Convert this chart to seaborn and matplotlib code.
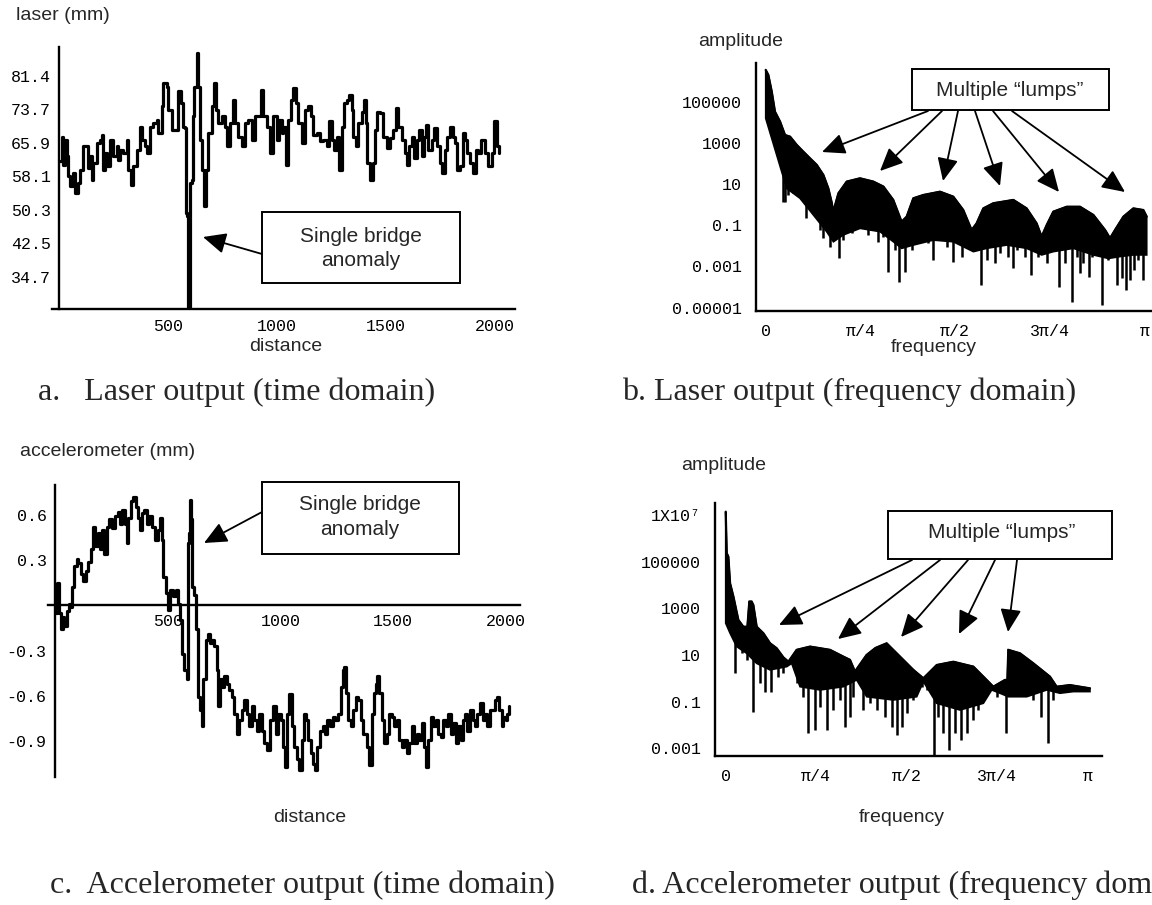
import numpy as np
import matplotlib
matplotlib.use('Agg')
import matplotlib.pyplot as plt
import seaborn as sns
from matplotlib.ticker import FixedLocator, MultipleLocator, NullFormatter
from matplotlib.patches import Rectangle

# ---------------- data ----------------
# (a) laser output, time domain
laser_d = [0, 11, 18, 26, 34, 41, 49, 64, 72, 87,
           95, 110, 125, 133, 141, 148, 156, 171, 187, 194,
           202, 209, 217, 232, 248, 263, 271, 278, 294, 309,
           317, 327, 339, 355, 370, 378, 393, 401, 416, 431,
           446, 454, 469, 477, 492, 500, 515, 531, 546, 557,
           566, 576, 581, 587, 592, 599, 607, 615, 619, 630,
           638, 645, 653, 664, 673, 683, 699, 709, 719, 729,
           745, 760, 771, 783, 795, 806, 821, 836, 852, 867,
           882, 898, 913, 924, 936, 951, 966, 982, 997, 1009,
           1020, 1028, 1040, 1051, 1061, 1074, 1086, 1096, 1112, 1127,
           1142, 1153, 1165, 1181, 1196, 1211, 1226, 1239, 1249, 1260,
           1272, 1285, 1295, 1306, 1321, 1330, 1341, 1349, 1361, 1372,
           1387, 1398, 1407, 1413, 1425, 1437, 1448, 1459, 1471, 1486,
           1502, 1517, 1529, 1543, 1555, 1570, 1586, 1593, 1606, 1616,
           1627, 1639, 1651, 1662, 1673, 1682, 1693, 1708, 1719, 1731,
           1746, 1757, 1769, 1780, 1792, 1804, 1815, 1826, 1838, 1850,
           1861, 1872, 1884, 1899, 1911, 1922, 1934, 1953, 1968, 1983,
           1994, 2006, 2018]
laser_v = [61.5, 67.3, 60.7, 66.6, 62.7, 58.0, 55.7, 58.8, 54.2, 56.5,
           59.6, 65.0, 65.0, 60.0, 62.7, 57.3, 61.1, 65.8, 66.6, 67.7,
           59.6, 63.5, 60.4, 66.6, 62.7, 65.0, 61.9, 64.2, 63.5, 66.6,
           59.6, 56.1, 60.4, 64.2, 69.6, 66.6, 65.0, 63.5, 69.6, 70.4,
           71.2, 68.1, 74.3, 79.7, 78.9, 73.5, 68.9, 68.9, 77.8, 75.1,
           69.6, 69.2, 49.5, 48.8, 27.5, 56.5, 57.3, 72.0, 78.9, 86.7,
           78.9, 66.6, 59.6, 51.1, 59.6, 68.1, 74.3, 79.7, 73.5, 70.4,
           72.0, 69.6, 65.0, 70.4, 75.8, 70.4, 67.3, 65.0, 70.4, 71.2,
           66.6, 72.0, 72.0, 78.2, 72.0, 69.6, 63.5, 72.0, 66.6, 71.2,
           68.1, 69.6, 60.7, 71.2, 75.8, 78.5, 75.1, 70.4, 65.8, 73.5,
           74.3, 72.0, 67.7, 68.1, 66.2, 66.6, 65.0, 70.8, 66.6, 64.2,
           67.3, 59.6, 69.6, 75.1, 75.8, 77.0, 73.5, 67.3, 65.0, 70.4,
           73.1, 75.8, 70.4, 61.1, 57.3, 61.1, 68.9, 73.1, 72.7, 67.3,
           64.6, 66.9, 68.9, 73.9, 69.6, 66.6, 63.5, 60.7, 65.0, 67.3,
           62.3, 66.6, 68.9, 62.7, 67.3, 70.0, 64.2, 66.6, 69.2, 65.0,
           61.1, 58.8, 64.2, 67.3, 69.6, 67.3, 65.8, 59.6, 60.4, 68.1,
           66.6, 63.5, 61.1, 58.8, 64.2, 63.5, 66.6, 63.5, 60.4, 63.5,
           70.8, 65.0, 63.5]
laser_ticks = [34.7, 42.5, 50.3, 58.1, 65.9, 73.7, 81.4]

# (c) accelerometer output, time domain
acc_d = [3, 8, 18, 27, 33, 41, 52, 62, 71, 77,
         86, 96, 103, 115, 126, 136, 148, 160, 170, 177,
         189, 200, 210, 219, 229, 239, 251, 266, 278, 288,
         299, 310, 318, 325, 337, 347, 358, 367, 377, 384,
         396, 406, 417, 429, 443, 455, 466, 473, 480, 491,
         500, 510, 525, 535, 544, 554, 562, 574, 584, 588,
         594, 599, 603, 609, 618, 624, 633, 643, 650, 658,
         668, 677, 687, 698, 707, 717, 724, 732, 742, 751,
         761, 772, 783, 795, 806, 816, 828, 840, 850, 860,
         872, 884, 894, 905, 916, 928, 939, 953, 968, 980,
         990, 1001, 1010, 1020, 1030, 1039, 1049, 1060, 1072, 1083,
         1094, 1104, 1113, 1123, 1134, 1146, 1153, 1163, 1175, 1187,
         1197, 1208, 1219, 1231, 1242, 1256, 1267, 1276, 1282, 1290,
         1301, 1311, 1323, 1335, 1345, 1355, 1367, 1382, 1394, 1404,
         1415, 1423, 1429, 1438, 1449, 1459, 1471, 1483, 1493, 1503,
         1515, 1527, 1537, 1548, 1559, 1571, 1582, 1592, 1604, 1616,
         1626, 1636, 1645, 1656, 1666, 1678, 1690, 1700, 1710, 1722,
         1734, 1744, 1755, 1766, 1778, 1789, 1799, 1808, 1818, 1829,
         1840, 1852, 1862, 1873, 1885, 1896, 1907, 1917, 1929, 1941,
         1951, 1961, 1970, 1981, 1988, 2000, 2006, 2015]
acc_v = [-0.05, 0.15, -0.05, -0.16, -0.08, -0.14, -0.04, 0.01, -0.01, 0.12,
         0.26, 0.31, 0.28, 0.21, 0.16, 0.23, 0.29, 0.37, 0.52, 0.39,
         0.48, 0.37, 0.50, 0.34, 0.52, 0.57, 0.51, 0.59, 0.62, 0.54,
         0.63, 0.54, 0.41, 0.58, 0.69, 0.72, 0.65, 0.58, 0.50, 0.61,
         0.63, 0.54, 0.59, 0.52, 0.43, 0.50, 0.58, 0.43, 0.19, 0.08,
         -0.03, 0.10, 0.06, 0.10, 0.01, -0.10, -0.32, -0.43, -0.49, 0.41,
         0.48, 0.70, 0.57, 0.12, 0.07, -0.16, -0.61, -0.69, -0.80, -0.49,
         -0.23, -0.19, -0.25, -0.23, -0.27, -0.43, -0.67, -0.49, -0.54, -0.47,
         -0.52, -0.56, -0.61, -0.72, -0.85, -0.76, -0.69, -0.63, -0.72, -0.80,
         -0.67, -0.76, -0.83, -0.72, -0.83, -0.91, -0.96, -0.76, -0.67, -0.85,
         -0.72, -0.76, -0.94, -1.07, -0.72, -0.59, -0.80, -0.94, -1.02, -1.09,
         -0.89, -0.72, -0.76, -0.89, -0.98, -1.05, -1.09, -0.94, -0.83, -0.80,
         -0.85, -0.76, -0.80, -0.74, -0.76, -0.72, -0.54, -0.43, -0.41, -0.58,
         -0.76, -0.80, -0.69, -0.61, -0.63, -0.76, -0.85, -0.94, -1.06, -0.72,
         -0.58, -0.52, -0.47, -0.58, -0.76, -0.91, -0.85, -0.72, -0.74, -0.80,
         -0.76, -0.89, -0.94, -0.89, -0.98, -0.91, -0.80, -0.91, -0.85, -0.89,
         -0.78, -0.94, -1.07, -0.89, -0.74, -0.80, -0.76, -0.85, -0.87, -0.76,
         -0.80, -0.72, -0.85, -0.78, -0.91, -0.80, -0.89, -0.76, -0.72, -0.83,
         -0.69, -0.76, -0.80, -0.72, -0.65, -0.76, -0.72, -0.80, -0.69, -0.69,
         -0.63, -0.61, -0.69, -0.80, -0.74, -0.76, -0.72, -0.67]
acc_ticks = [-0.9, -0.6, -0.3, 0.3, 0.6]

# (b) laser spectrum: top / bottom edge of the dense band and deep spikes (log10 amplitude)
b_top_f = [0.000, 0.022, 0.050, 0.077, 0.119, 0.160, 0.202, 0.257, 0.312, 0.367,
           0.423, 0.478, 0.519, 0.547, 0.560, 0.602, 0.671, 0.781, 0.892, 0.975,
           1.057, 1.126, 1.168, 1.223, 1.306, 1.444, 1.554, 1.637, 1.706, 1.747,
           1.803, 1.886, 2.052, 2.162, 2.245, 2.286, 2.328, 2.383, 2.494, 2.604,
           2.715, 2.812, 2.853, 2.894, 2.964, 3.046, 3.129, 3.157]
b_top_log = [6.54, 6.29, 5.49, 4.51, 4.03, 3.38, 3.30, 2.90, 2.57, 2.25,
             1.93, 1.44, 0.79, 0.10, -0.34, 0.55, 1.12, 1.28, 1.12, 0.88,
             0.23, -0.83, -0.58, 0.31, 0.47, 0.63, 0.39, -0.26, -1.23, -0.91,
             -0.18, 0.07, 0.23, -0.18, -0.91, -1.55, -0.99, -0.34, -0.10, -0.10,
             -0.50, -1.23, -1.63, -1.23, -0.58, -0.18, -0.26, -0.58]
b_bot_f = [0.000, 0.091, 0.174, 0.284, 0.395, 0.505, 0.561, 0.643, 0.782, 0.947,
           1.058, 1.127, 1.223, 1.389, 1.555, 1.665, 1.721, 1.831, 1.997, 2.162,
           2.287, 2.383, 2.549, 2.715, 2.839, 2.936, 3.046, 3.157]
b_bot_log = [4.19, 2.41, 0.79, 0.31, -0.50, -1.31, -1.80, -1.47, -1.15, -1.31,
             -1.80, -2.12, -1.96, -1.72, -1.80, -2.12, -2.28, -2.12, -1.96, -2.12,
             -2.44, -2.28, -2.12, -2.44, -2.61, -2.52, -2.44, -2.44]
b_spike_f = [0.146, 0.160, 0.188, 0.229, 0.334, 0.381, 0.450, 0.478, 0.533, 0.610,
             0.643, 0.712, 0.781, 0.850, 0.892, 0.933, 0.975, 1.016, 1.071, 1.107,
             1.154, 1.209, 1.278, 1.347, 1.389, 1.416, 1.499, 1.554, 1.623, 1.706,
             1.784, 1.831, 1.900, 1.941, 2.010, 2.052, 2.079, 2.148, 2.195, 2.259,
             2.328, 2.433, 2.480, 2.535, 2.577, 2.604, 2.632, 2.682, 2.701, 2.784,
             2.839, 2.913, 2.949, 2.982, 3.018, 3.051, 3.087, 3.123]
b_spike_log = [0.15, 0.15, 0.47, 0.55, -0.66, -0.34, -1.23, -1.63, -2.04, -2.60,
               -1.71, -1.39, -1.06, -1.47, -0.74, -1.79, -1.55, -3.25, -2.20, -3.74,
               -3.25, -2.20, -1.71, -1.87, -2.69, -1.55, -2.04, -2.77, -2.52, -2.20,
               -3.90, -2.69, -2.85, -2.36, -2.52, -3.09, -2.20, -2.52, -3.41, -2.52,
               -2.85, -3.98, -2.85, -4.71, -2.52, -3.33, -2.85, -3.50, -2.52, -4.87,
               -2.69, -3.90, -3.58, -4.15, -3.66, -3.17, -2.69, -3.66]
b_ytick_exp = [5, 3, 1, -1, -3, -5]
b_ytick_lab = ['100000', '1000', '10', '0.1', '0.001', '0.00001']

# (d) accelerometer spectrum
d_top_f = [0.000, 0.009, 0.023, 0.038, 0.067, 0.110, 0.153, 0.188, 0.205, 0.225,
           0.240, 0.269, 0.327, 0.385, 0.442, 0.500, 0.544, 0.616, 0.732, 0.905,
           1.021, 1.079, 1.122, 1.223, 1.300, 1.397, 1.513, 1.629, 1.716, 1.832,
           1.976, 2.150, 2.265, 2.323, 2.424, 2.445, 2.453, 2.555, 2.671, 2.815,
           2.873, 2.988, 3.162]
d_top_log = [7.14, 5.36, 5.21, 4.07, 3.50, 2.50, 2.21, 2.21, 3.29, 3.29,
             3.14, 2.21, 1.93, 1.50, 1.29, 0.90, 0.71, 1.22, 1.36, 1.22,
             0.93, 0.79, 0.29, 1.00, 1.30, 1.50, 0.93, 0.36, 0.00, 0.57,
             0.71, 0.50, -0.07, -0.36, -0.07, -0.07, 1.22, 1.07, 0.64, 0.07,
             -0.36, -0.29, -0.43]
d_bot_f = [0.000, 0.038, 0.095, 0.182, 0.269, 0.385, 0.530, 0.573, 0.645, 0.819,
           1.021, 1.137, 1.224, 1.455, 1.658, 1.716, 1.831, 2.034, 2.237, 2.309,
           2.381, 2.454, 2.613, 2.787, 2.902, 3.018, 3.162]
d_bot_log = [2.36, 1.93, 1.36, 1.07, 0.64, 0.36, 0.50, 0.64, -0.36, -0.50,
             -0.36, -0.07, -0.79, -0.93, -0.79, -0.14, -1.07, -1.36, -1.07, -0.50,
             -0.64, -0.79, -0.79, -0.50, -0.64, -0.57, -0.57]
d_spike_f = [0.081, 0.139, 0.182, 0.240, 0.298, 0.341, 0.390, 0.457, 0.500, 0.616,
             0.674, 0.717, 0.775, 0.819, 0.876, 0.934, 0.992, 1.036, 1.079, 1.108,
             1.195, 1.253, 1.311, 1.383, 1.441, 1.484, 1.528, 1.571, 1.629, 1.701,
             1.744, 1.808, 1.846, 1.889, 1.941, 1.991, 2.040, 2.092, 2.150, 2.193,
             2.236, 2.294, 2.352, 2.433, 2.468, 2.555, 2.613, 2.671, 2.734, 2.801,
             2.844]
d_spike_log = [0.21, 1.07, 0.78, -1.43, -0.21, -0.57, -0.57, 0.07, 0.21, -0.21,
               -0.78, -2.36, -2.21, -1.21, -2.21, -1.35, -0.93, -2.07, -1.64, -0.78,
               -1.35, -1.07, -1.35, -1.64, -2.07, -2.43, -2.07, -1.50, -0.93, -0.36,
               -0.50, -3.29, -1.64, -2.36, -3.07, -2.36, -2.64, -2.36, -1.79, -1.35,
               -0.78, -0.36, -0.78, -2.36, 0.21, 0.07, -0.36, -0.93, -1.64, -2.79,
               -0.93]
d_ytick_exp = [7, 5, 3, 1, -1, -3]
d_ytick_lab = ['1X10\u2077', '100000', '1000', '10', '0.1', '0.001']

freq_ticks = [0, np.pi / 4, np.pi / 2, 3 * np.pi / 4, np.pi]
freq_labels = ['0', '\u03c0/4', '\u03c0/2', '3\u03c0/4', '\u03c0']
dist_ticks = [500, 1000, 1500, 2000]

# ---------------- figure ----------------
W, H = 1152, 905
sns.set_theme(style='white')
plt.rcParams['font.family'] = ['Liberation Sans', 'DejaVu Sans']
MONO = ['Liberation Mono', 'DejaVu Sans Mono']

fig = plt.figure(figsize=(W / 100, H / 100), dpi=100)
fig.patch.set_facecolor('white')


def rect(l, t, r, b):
    return [l / W, 1 - b / H, (r - l) / W, (b - t) / H]


def P(x, y):
    return (x, H - y)


def style(ax, xpad=5, ypad=5):
    for s in ['top', 'right']:
        ax.spines[s].set_visible(False)
    for s in ['left', 'bottom']:
        ax.spines[s].set_color('black')
        ax.spines[s].set_linewidth(1.7)
    ax.set_facecolor('white')
    ax.tick_params(which='major', direction='in', length=6, width=1.2,
                   colors='black', labelsize=12, labelfontfamily=MONO)
    ax.tick_params(axis='x', which='major', pad=xpad)
    ax.tick_params(axis='y', which='major', pad=ypad)
    ax.tick_params(which='minor', direction='in', length=3, width=0.8,
                   colors='black')
    ax.set_xlabel('')
    ax.set_ylabel('')
    ax.grid(False)


def ftext(x, y, s, **kw):
    fig.text(x / W, 1 - y / H, s, **kw)


def box(l, t, r, b):
    fig.add_artist(Rectangle((l / W, 1 - b / H), (r - l) / W, (b - t) / H,
                             transform=fig.transFigure, facecolor='white',
                             edgecolor='black', lw=1.4, zorder=5))


def arrow(ax, tail, tip):
    ax.annotate('', xy=P(*tip), xytext=P(*tail), xycoords='figure pixels',
                textcoords='figure pixels', annotation_clip=False, zorder=6,
                arrowprops=dict(arrowstyle='-|>,head_length=0.7,head_width=0.32',
                                color='black', lw=1.3, mutation_scale=20,
                                shrinkA=0, shrinkB=0))


# ---- (a) laser, time domain
axA = fig.add_axes(rect(51.7, 46.7, 514.9, 309.3))
sns.lineplot(x=laser_d, y=laser_v, ax=axA, color='black', lw=2.3,
             drawstyle='steps-post', estimator=None, sort=False)
axA.set_xlim(-35, 2090)
axA.set_ylim(27.1, 88.2)
style(axA, xpad=7, ypad=6)
axA.spines['left'].set_position(('data', 0))
axA.set_xticks(dist_ticks)
axA.set_xticklabels([str(t) for t in dist_ticks])
axA.xaxis.set_minor_locator(MultipleLocator(100))
axA.set_yticks(laser_ticks)
axA.set_yticklabels([f'{t:.1f}' for t in laser_ticks])
axA.yaxis.set_minor_locator(FixedLocator(list(np.arange(28.46, 88.0, 1.56))))
ftext(16, 16, 'laser (mm)', fontsize=14, va='center', ha='left')
ftext(286, 346, 'distance', fontsize=14, va='center', ha='center')
box(262, 212, 460, 283)
ftext(361, 236, 'Single bridge', fontsize=15, ha='center', va='center', zorder=7)
ftext(361, 260, 'anomaly', fontsize=15, ha='center', va='center', zorder=7)
arrow(axA, (262, 254), (203, 237))

# ---- (c) accelerometer, time domain
axC = fig.add_axes(rect(48.3, 485, 520, 776.7))
sns.lineplot(x=acc_d, y=acc_v, ax=axC, color='black', lw=2.3,
             drawstyle='steps-post', estimator=None, sort=False)
axC.set_xlim(-30, 2062)
axC.set_ylim(-1.135, 0.797)
style(axC, xpad=6, ypad=6)
axC.spines['left'].set_position(('data', 0))
axC.spines['bottom'].set_position(('data', 0))
axC.set_xticks(dist_ticks)
axC.set_xticklabels([str(t) for t in dist_ticks])
axC.xaxis.set_minor_locator(MultipleLocator(100))
axC.set_yticks(acc_ticks)
axC.set_yticklabels([f'{t:.1f}' for t in acc_ticks])
axC.yaxis.set_minor_locator(MultipleLocator(0.06))
ftext(20, 451, 'accelerometer (mm)', fontsize=14, va='center', ha='left')
ftext(310, 817, 'distance', fontsize=14, va='center', ha='center')
box(262, 482, 459, 554)
ftext(360, 505, 'Single bridge', fontsize=15, ha='center', va='center', zorder=7)
ftext(360, 529, 'anomaly', fontsize=15, ha='center', va='center', zorder=7)
arrow(axC, (262, 512), (204, 543))


def spectrum(ax, top_f, top_log, bot_f, bot_log, spk_f, spk_log):
    xs = np.r_[top_f, bot_f[::-1]]
    ys = 10.0 ** np.r_[top_log, bot_log[::-1]]
    ax.fill(xs, ys, color='black', lw=1.2)
    sns.lineplot(x=top_f, y=10.0 ** np.array(top_log), ax=ax, color='black',
                 lw=1.6, estimator=None, sort=False)
    base = np.interp(spk_f, bot_f, bot_log) + 0.3
    ax.vlines(spk_f, 10.0 ** np.array(spk_log), 10.0 ** base, color='black', lw=1.8)


# ---- (b) laser, frequency domain
axB = fig.add_axes(rect(755.7, 63.3, 1160, 311))
axB.set_yscale('log')
spectrum(axB, b_top_f, b_top_log, b_bot_f, b_bot_log, b_spike_f, b_spike_log)
axB.set_xlim(-0.083, 3.267)
axB.set_ylim(10 ** -5.16, 10 ** 6.86)
style(axB, xpad=9, ypad=10)
axB.set_xticks(freq_ticks)
axB.set_xticklabels(freq_labels)
axB.set_yticks([10.0 ** e for e in b_ytick_exp])
axB.set_yticklabels(b_ytick_lab)
axB.yaxis.set_minor_locator(FixedLocator([10.0 ** e for e in range(-5, 7)]))
axB.yaxis.set_minor_formatter(NullFormatter())
ftext(741, 41, 'amplitude', fontsize=14, va='center', ha='center')
ftext(934, 347, 'frequency', fontsize=14, va='center', ha='center')
box(912, 69, 1109, 110)
ftext(1010, 91, 'Multiple \u201clumps\u201d', fontsize=15, ha='center', va='center', zorder=7)
for tail, tip in [((928, 111), (822, 152)), ((942, 111), (880, 171)),
                  ((958, 111), (943, 181)), ((975, 111), (1000, 186)),
                  ((993, 111), (1059, 192)), ((1012, 111), (1125, 192))]:
    arrow(axB, tail, tip)

# ---- (d) accelerometer, frequency domain
axD = fig.add_axes(rect(715, 503.3, 1101.7, 756))
axD.set_yscale('log')
spectrum(axD, d_top_f, d_top_log, d_bot_f, d_bot_log, d_spike_f, d_spike_log)
axD.set_xlim(-0.093, 3.264)
axD.set_ylim(10 ** -3.33, 10 ** 7.5)
style(axD, xpad=9, ypad=10)
axD.set_xticks(freq_ticks)
axD.set_xticklabels(freq_labels)
axD.set_yticks([10.0 ** e for e in d_ytick_exp])
axD.set_yticklabels(d_ytick_lab)
axD.yaxis.set_minor_locator(FixedLocator([10.0 ** e for e in range(-3, 8)]))
axD.yaxis.set_minor_formatter(NullFormatter())
ftext(724, 465, 'amplitude', fontsize=14, va='center', ha='center')
ftext(902, 817, 'frequency', fontsize=14, va='center', ha='center')
box(888, 511, 1112, 559)
ftext(1002, 533, 'Multiple \u201clumps\u201d', fontsize=15, ha='center', va='center', zorder=7)
for tail, tip in [((912, 560), (779, 625)), ((940, 560), (838, 639)),
                  ((968, 560), (901, 637)), ((995, 560), (959, 634)),
                  ((1017, 560), (1008, 632))]:
    arrow(axD, tail, tip)

# ---- captions
SERIF = ['Liberation Serif', 'DejaVu Serif']
ftext(38, 392, 'a.   Laser output (time domain)', fontsize=23, family=SERIF, va='center')
ftext(622, 392, 'b. Laser output (frequency domain)', fontsize=23, family=SERIF, va='center')
ftext(50, 885, 'c.  Accelerometer output (time domain)', fontsize=23, family=SERIF, va='center')
ftext(632, 885, 'd. Accelerometer output (frequency domain)', fontsize=23, family=SERIF, va='center')

fig.savefig('out.png', dpi=100, facecolor='white')
